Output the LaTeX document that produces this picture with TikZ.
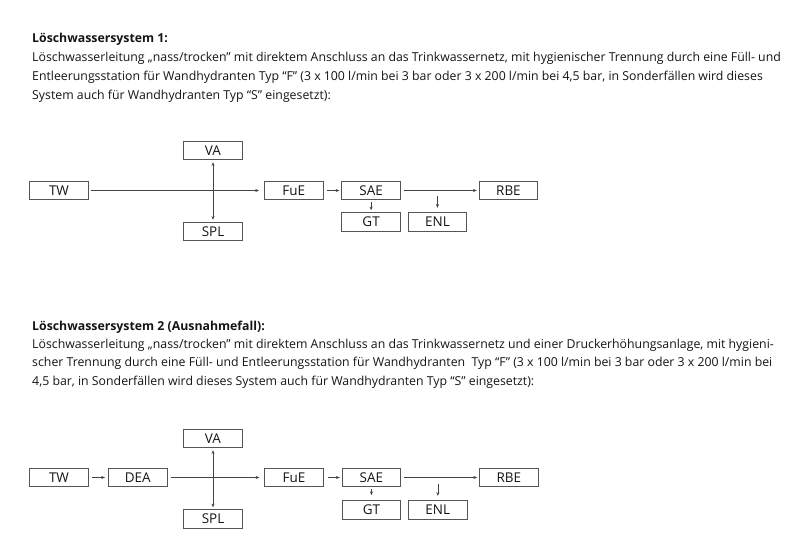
\documentclass[tikz,border=0pt]{standalone}
\usepackage{fontspec}
\setmainfont{Open Sans}
\usepackage{tikz}
\usetikzlibrary{arrows.meta,positioning,calc}
\definecolor{txt}{HTML}{151515}
\definecolor{boxline}{HTML}{555555}
\definecolor{arrline}{HTML}{444444}

\begin{document}
\begin{tikzpicture}[
    x=0.3mm, y=-0.3mm,
    >={Stealth[length=3.2pt,width=2.6pt]}, node distance=5.4mm,
    every node/.style={font=\fontsize{10.5}{12}\selectfont, text=txt},
    box/.style={draw=boxline, line width=0.6pt, minimum width=17.6mm, minimum height=5.6mm, inner sep=0pt, font=\fontsize{11.5}{12}\selectfont},
    line/.style={anchor=base west, inner sep=0pt},
    arr/.style={->, draw=arrline, line width=0.5pt}
  ]
    \useasboundingbox[fill=white] (0,0) rectangle (800,551);

    % first system
    \node[line] (head1) at (32,42.5) {\textbf{Löschwassersystem 1:}};
    \node[line] (t1a) at (32,61.5) {Löschwasserleitung „nass/trocken” mit direktem Anschluss an das Trinkwassernetz, mit hygienischer Trennung durch eine Füll- und};
    \node[line] (t1b) at (32,80.5) {Entleerungsstation für Wandhydranten Typ “F” (3 x 100 l/min bei 3 bar oder 3 x 200 l/min bei 4,5 bar, in Sonderfällen wird dieses};
    \node[line] (t1c) at (32,99.5) {System auch für Wandhydranten Typ “S” eingesetzt):};

    \node[box] (tw1) at (59,190.5) {TW};
    \node[box, right=52.6mm of tw1] (fue1) {FuE};
    \node[box, right=of fue1]        (sae1) {SAE};
    \node[box, right=23.4mm of sae1] (rbe1) {RBE};
    \node[box, below=3.6mm of sae1]  (gt1)  {GT};
    \node[box, right=2.1mm of gt1]   (enl1) {ENL};
    \node[box] (va1)  at (213,150.5) {VA};
    \node[box] (spl1) at (213,231.5) {SPL};

    \draw[arr, shorten <=0.8mm, shorten >=1.5mm] (tw1) -- (fue1);
    \draw[arr, shorten <=1.2mm, shorten >=0.6mm] (fue1) -- (sae1);
    \draw[arr, shorten <=0.9mm, shorten >=0.6mm] (sae1) -- (rbe1);
    \draw[arr, shorten <=0.5mm, shorten >=0.6mm] (sae1) -- (gt1);
    \draw[arr, <->, shorten <=0.6mm, shorten >=0.6mm] (va1) -- (spl1);
    \draw[arr, shorten <=1.8mm, shorten >=1.3mm] (enl1.north |- sae1.east) -- (enl1);

    % second system
    \node[line] (head2) at (32,330.5) {\textbf{Löschwassersystem 2 (Ausnahmefall):}};
    \node[line] (t2a) at (32,348.5) {Löschwasserleitung „nass/trocken” mit direktem Anschluss an das Trinkwassernetz und einer Druckerhöhungsanlage, mit hygieni-};
    \node[line] (t2b) at (32,367) {scher Trennung durch eine Füll- und Entleerungsstation für Wandhydranten \ Typ “F” (3 x 100 l/min bei 3 bar oder 3 x 200 l/min bei};
    \node[line] (t2c) at (32,385.5) {4,5 bar, in Sonderfällen wird dieses System auch für Wandhydranten Typ “S” eingesetzt):};

    \begin{scope}[shift={(0,287)}]
    \node[box] (tw2) at (59,190.5) {TW};
    \node[box, right=5.8mm of tw2]  (dea2) {DEA};
    \node[box, right=29.1mm of dea2] (fue2) {FuE};
    \node[box, right=of fue2]        (sae2) {SAE};
    \node[box, right=23.4mm of sae2] (rbe2) {RBE};
    \node[box, below=3.9mm of sae2]  (gt2)  {GT};
    \node[box, right=2.1mm of gt2]   (enl2) {ENL};
    \node[box] (va2)  at (213,151.5) {VA};
    \node[box] (spl2) at (213,232) {SPL};
    \end{scope}

    \draw[arr, shorten <=0.9mm, shorten >=0.9mm] (tw2) -- (dea2);
    \draw[arr, shorten <=1.2mm, shorten >=1.5mm] (dea2) -- (fue2);
    \draw[arr, shorten <=1.2mm, shorten >=0.6mm] (fue2) -- (sae2);
    \draw[arr, shorten <=0.9mm, shorten >=0.6mm] (sae2) -- (rbe2);
    \draw[arr, shorten <=0.5mm, shorten >=1.5mm] (sae2) -- (gt2);
    \draw[arr, <->, shorten <=0.6mm, shorten >=0.6mm] (va2) -- (spl2);
    \draw[arr, shorten <=1.8mm, shorten >=1.3mm] (enl2.north |- sae2.east) -- (enl2);
  \end{tikzpicture}
\end{document}
